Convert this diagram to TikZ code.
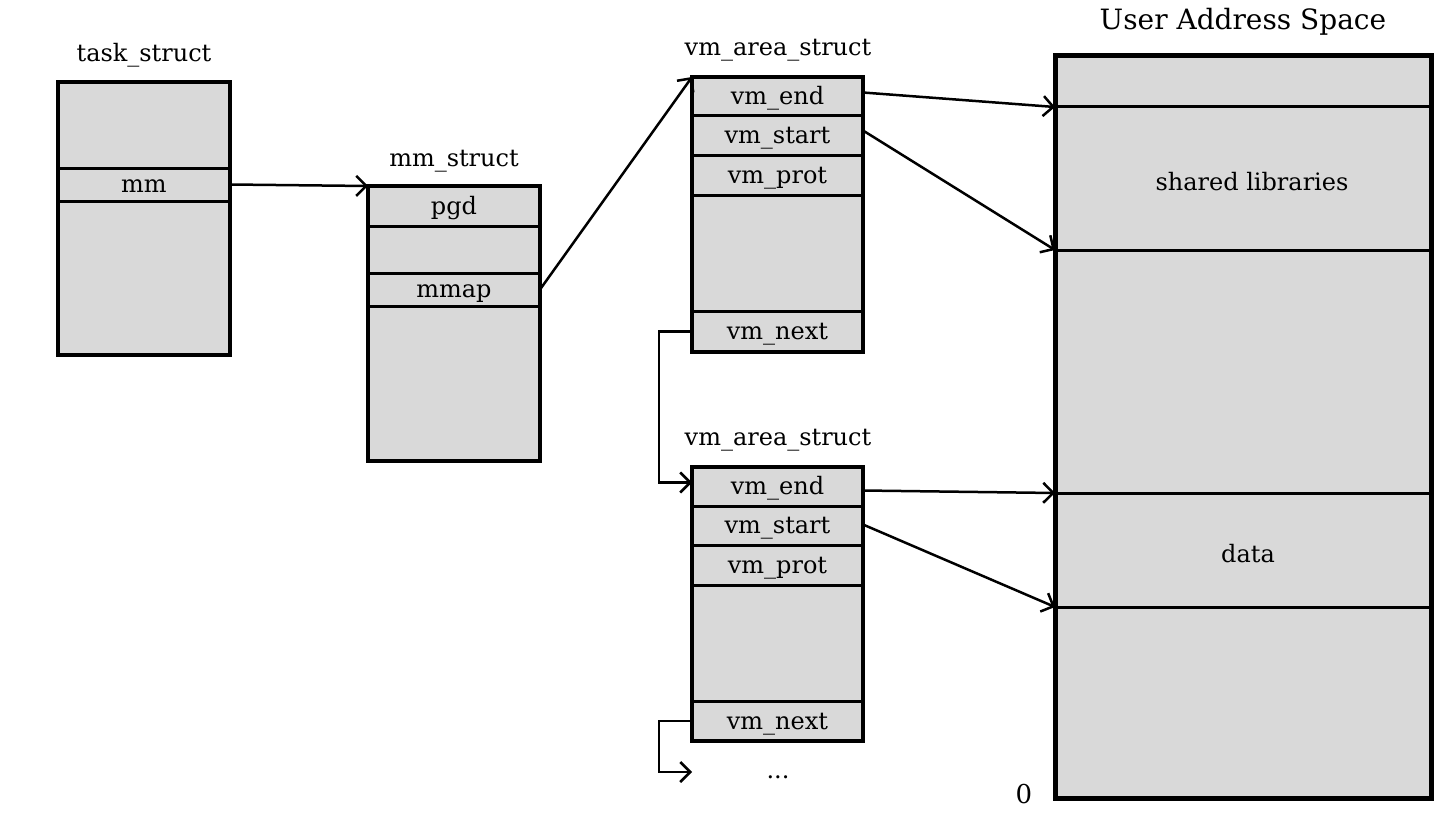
\documentclass[tikz,border=0pt]{standalone}
\usepackage{fontspec}
\setmainfont{DejaVu Serif}
\usetikzlibrary{arrows.meta}
\definecolor{cellgray}{RGB}{217,217,217}
\begin{document}
\begin{tikzpicture}[x=0.5pt,y=-0.5pt,
  row/.style={draw, fill=cellgray, line width=1.5pt, inner sep=0pt, outer sep=0pt, anchor=north west, font=\fontsize{12}{14}\selectfont, text height=8.5pt, text depth=0.5pt},
  outer/.style={draw, line width=2pt},
  lbl/.style={font=\fontsize{12}{14}\selectfont, inner sep=0pt},
  arr/.style={line width=1.25pt, -{Straight Barb[length=5pt,width=10pt,line width=1.25pt]}},
  ln/.style={line width=1.25pt}]
\useasboundingbox (0,0) rectangle (1434,813);

% task_struct
\node[lbl] (tlbl) at (144,55) {task\_struct};
\node[row, minimum width=86pt, minimum height=43pt] (t1) at (58,82) {};
\node[row, minimum width=86pt, minimum height=16.5pt] (tmm) at (58,168) {mm};
\node[row, minimum width=86pt, minimum height=77pt] (t3) at (58,201) {};
\draw[outer] (t1.north west) rectangle (t3.south east);

% mm_struct
\node[lbl] (mlbl) at (454,161) {mm\_struct};
\node[row, minimum width=86pt, minimum height=20pt] (mpgd) at (368,186) {pgd};
\node[row, minimum width=86pt, minimum height=23.5pt] (m2) at (368,226) {};
\node[row, minimum width=86pt, minimum height=16.5pt] (mmmap) at (368,273) {mmap};
\node[row, minimum width=86pt, minimum height=77.5pt] (m4) at (368,306) {};
\draw[outer] (mpgd.north west) rectangle (m4.south east);

% vm_area_struct 1
\node[lbl] (albl) at (778,50) {vm\_area\_struct};
\node[row, minimum width=85.5pt, minimum height=19.5pt] (aend) at (692,77) {vm\_end};
\node[row, minimum width=85.5pt, minimum height=19.5pt] (astart) at (692,116) {vm\_start};
\node[row, minimum width=85.5pt, minimum height=20pt] (aprot) at (692,155) {vm\_prot};
\node[row, minimum width=85.5pt, minimum height=58pt] (ablank) at (692,195) {};
\node[row, minimum width=85.5pt, minimum height=20.5pt] (anext) at (692,311) {vm\_next};
\draw[outer] (aend.north west) rectangle (anext.south east);

% vm_area_struct 2
\node[lbl] (blbl) at (778,440) {vm\_area\_struct};
\node[row, minimum width=85.5pt, minimum height=19.5pt] (bend) at (692,467) {vm\_end};
\node[row, minimum width=85.5pt, minimum height=19.5pt] (bstart) at (692,506) {vm\_start};
\node[row, minimum width=85.5pt, minimum height=20pt] (bprot) at (692,545) {vm\_prot};
\node[row, minimum width=85.5pt, minimum height=58pt] (bblank) at (692,585) {};
\node[row, minimum width=85.5pt, minimum height=20pt] (bnext) at (692,701) {vm\_next};
\draw[outer] (bend.north west) rectangle (bnext.south east);
\node[lbl] (dots) at (778,777) {...};
\coordinate (dotsin) at (692,772);

% User address space
\node[lbl, font=\fontsize{14}{16}\selectfont] (ulbl) at (1243,22) {User Address Space};
\node[row, minimum width=188pt, minimum height=25.5pt] (u1) at (1055,56) {};
\node[row, minimum width=188pt, minimum height=71.5pt] (u2) at (1055,107) {\hspace*{9pt}\raisebox{-2pt}{shared libraries}};
\node[row, minimum width=188pt, minimum height=121.5pt] (u3) at (1055,250) {};
\node[row, minimum width=188pt, minimum height=57pt] (u4) at (1055,493) {\hspace*{5pt}\raisebox{-2pt}{data}};
\node[row, minimum width=188pt, minimum height=95.5pt] (u5) at (1055,607) {};
\draw[outer, line width=2.5pt] (u1.north west) rectangle (u5.south east);
\node[lbl, font=\fontsize{13}{15}\selectfont] (zero) at (1024,794) {0};

% connectors
\draw[arr] (tmm.east) -- (mpgd.north west);
\draw[arr] (mmmap.east) -- (aend.north west);
\draw[arr] ([yshift=2pt]aend.east) -- (u2.north west);
\draw[arr] ([yshift=2.5pt]astart.east) -- (u3.north west);
\draw[arr] ([yshift=-2pt]bend.east) -- (u4.north west);
\draw[arr] ([yshift=0.5pt]bstart.east) -- (u5.north west);
\draw[arr] (anext.west) -- ++(-33,0) |- ([yshift=2pt]bend.west);
\draw[arr] (bnext.west) -- ++(-33,0) |- (dotsin);
\end{tikzpicture}
\end{document}
